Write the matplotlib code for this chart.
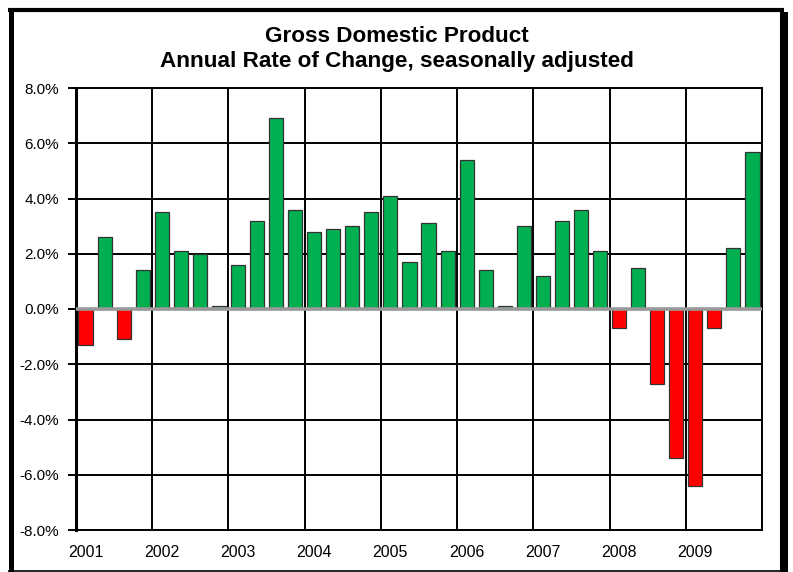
import matplotlib
matplotlib.use("Agg")
import matplotlib.pyplot as plt
from matplotlib.lines import Line2D
import numpy as np

years = ["2001", "2002", "2003", "2004", "2005", "2006", "2007", "2008", "2009"]
gdp_change = [
    -1.3, 2.6, -1.1, 1.4,
    3.5, 2.1, 2.0, 0.1,
    1.6, 3.2, 6.9, 3.6,
    2.8, 2.9, 3.0, 3.5,
    4.1, 1.7, 3.1, 2.1,
    5.4, 1.4, 0.1, 3.0,
    1.2, 3.2, 3.6, 2.1,
    -0.7, 1.5, -2.7, -5.4,
    -6.4, -0.7, 2.2, 5.7,
]
y_ticks = [-8, -6, -4, -2, 0, 2, 4, 6, 8]

plt.rcParams['font.family'] = ['Liberation Sans', 'DejaVu Sans']

fig = plt.figure(figsize=(7.93, 5.72), dpi=100)
ax = fig.add_axes([76/793, 1-530/572, (762-76)/793, (530-88)/572])

x = np.arange(len(gdp_change))
colors = ['#00B050' if v >= 0 else '#FF0000' for v in gdp_change]

# gridlines
for t in y_ticks:
    ax.axhline(t, color='black', lw=1.4, zorder=1)
for i in range(len(years) + 1):
    ax.axvline(i * 4 - 0.5, color='black', lw=1.4, zorder=1)

ax.bar(x, gdp_change, width=0.74, color=colors, edgecolor='#333333', linewidth=0.9, zorder=3)
ax.axhline(0, color='#999999', lw=2.6, zorder=4)

ax.set_xlim(-0.5, len(gdp_change) - 0.5)
ax.set_ylim(-8, 8)
ax.set_yticks(y_ticks)
ax.set_yticklabels([f"{t:.1f}%" for t in y_ticks], fontsize=11)
ax.set_xticks(np.arange(len(years)) * 4)
ax.set_xticklabels(years, fontsize=11.5)
ax.tick_params(axis='x', length=0, pad=11)
ax.tick_params(axis='y', length=6, width=1.4, direction='out', pad=6)

for s in ['top', 'right', 'bottom']:
    ax.spines[s].set_color('black')
    ax.spines[s].set_linewidth(1.4)
ax.spines['left'].set_linewidth(2.2)
ax.spines['left'].set_color('black')

fig.text(0.5, 1 - 37/572, "Gross Domestic Product", ha='center', va='center',
         fontsize=16.2, fontweight='bold')
fig.text(0.5, 1 - 62/572, "Annual Rate of Change, seasonally adjusted", ha='center', va='center',
         fontsize=16.2, fontweight='bold')

# outer frame
W, H = 793, 572
def fl(x0, y0, x1, y1, lw):
    fig.add_artist(Line2D([x0/W, x1/W], [1-y0/H, 1-y1/H], color='black', lw=lw,
                          transform=fig.transFigure, solid_capstyle='butt'))
fl(8, 10, 784, 10, 3.0)
fl(10.5, 8, 10.5, 572, 3.6)
fl(784, 12, 784, 572, 5.8)
fl(8, 571, 784, 571, 1.2)

fig.savefig("out.png", dpi=100)
